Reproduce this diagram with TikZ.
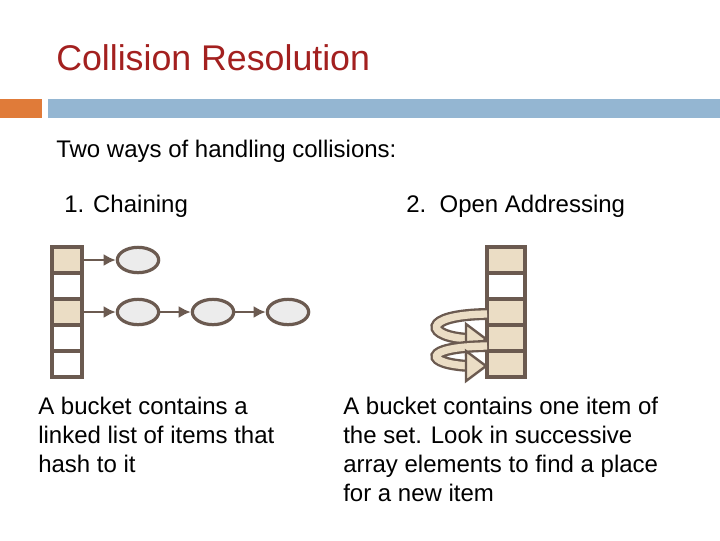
\documentclass[tikz,border=0pt]{standalone}
\usepackage{fontspec}
\setmainfont{Liberation Sans}
\usetikzlibrary{arrows.meta,shapes.geometric}
\definecolor{brd}{HTML}{6B5A50}
\definecolor{bg}{HTML}{EBDDC5}
\definecolor{ttl}{HTML}{A3201F}
\definecolor{bar1}{HTML}{E07B39}
\definecolor{bar2}{HTML}{94B6D2}
\begin{document}
\begin{tikzpicture}[x=0.75pt,y=-0.75pt,
  bord/.style={draw=brd,line width=2.6pt},
  cellf/.style={bord,fill=bg},
  celle/.style={bord,fill=white},
  elem/.style={ellipse,draw=brd,line width=2.4pt,fill=gray!15,minimum width=31pt,minimum height=19pt,inner sep=0pt},
  lnk/.style={draw=brd,line width=1.8pt,-{Latex[length=9pt,width=9pt]}},
  txt/.style={anchor=north west,align=left,font=\fontsize{18}{21.75}\selectfont,inner sep=0pt}]
\useasboundingbox (0,0) rectangle (720,540);
\fill[white] (0,0) rectangle (720,540);
\node[anchor=west,inner sep=0pt,text=ttl,font=\fontsize{26.8}{30}\selectfont] (title) at (56,58) {Collision Resolution};
\fill[bar1] (0,99) rectangle (42,118);
\fill[bar2] (48,99) rectangle (720,118);
\node[txt] (intro) at (56,140) {Two ways of handling collisions:};
\node[txt] (h1) at (64,195) {1. Chaining};
\node[txt] (h2) at (406,195) {2.\ \ Open Addressing};
% left array
\foreach \i/\s in {0/cellf,1/celle,2/cellf,3/celle,4/celle}
  \path[\s] (52,247+26*\i) rectangle (82,273+26*\i);
\coordinate (c0) at (82,260);
\coordinate (c2) at (82,312);
\node[elem] (e1) at (138,260) {};
\node[elem] (e2) at (138,312) {};
\node[elem] (e3) at (213,312) {};
\node[elem] (e4) at (288,312) {};
\draw[lnk] (c0) -- (e1);
\draw[lnk] (c2) -- (e2);
\draw[lnk] (e2) -- (e3);
\draw[lnk] (e3) -- (e4);
% right array
\foreach \i/\s in {0/cellf,1/celle,2/cellf,3/cellf,4/cellf}
  \path[\s] (487,247+26*\i) rectangle (525,273+26*\i);
% curved arrows
\foreach \ya/\yb in {314/339, 346/366}{
  \draw[brd,line width=9pt] (487,\ya) .. controls (420,\ya+1) and (425,\yb-2) .. (470,\yb);
  \draw[bg,line width=5.5pt] (487,\ya) .. controls (420,\ya+1) and (425,\yb-2) .. (470,\yb);
  \filldraw[fill=bg,draw=brd,line width=1.8pt] (466,\yb-15) -- (486,\yb) -- (466,\yb+15) -- cycle;
}
\node[txt] (t1) at (38,397) {A bucket contains a\\linked list of items that\\hash to it};
\node[txt] (t2) at (343,397) {A bucket contains one item of\\the set. Look in successive\\array elements to find a place\\for a new item};
\end{tikzpicture}
\end{document}
